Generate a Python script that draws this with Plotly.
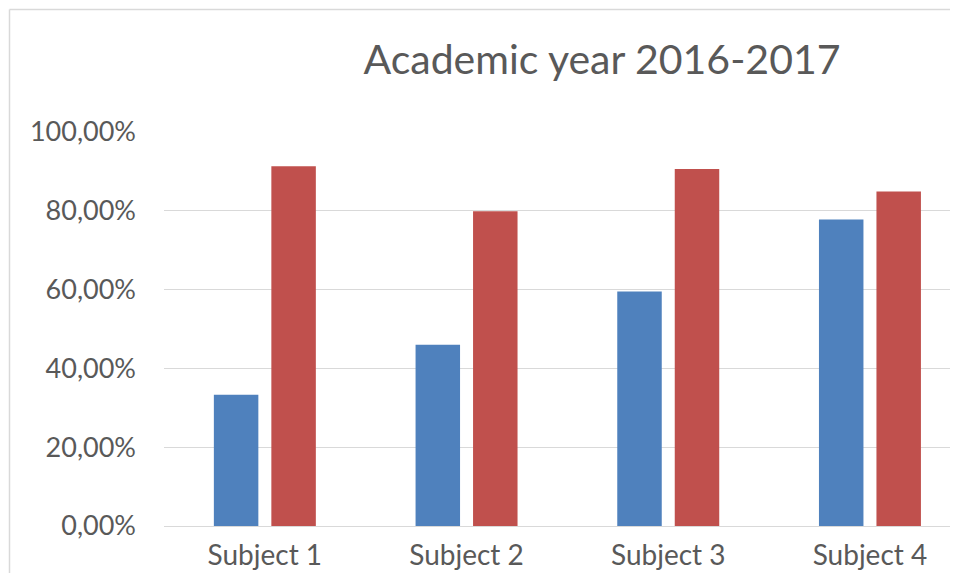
import plotly.graph_objects as go

categories = ["Subject 1", "Subject 2", "Subject 3", "Subject 4"]
series_a = [0.333, 0.460, 0.595, 0.778]
series_b = [0.913, 0.799, 0.906, 0.849]
tick_vals = [0, 0.2, 0.4, 0.6, 0.8, 1.0]
tick_text = ["0,00%", "20,00%", "40,00%", "60,00%", "80,00%", "100,00%"]
title_text = "Academic year 2016-2017"

FONT = "Lato"
GREY = "#595959"
GRID = "#d9d9d9"

# page body has an 8px margin, so figure coordinates are shifted by 8px
W, H = 950, 565
L, T, B = 156, 124, 47
PW = W - L
PH = H - T - B
CAT_PX = 201.7  # pixel width of one category slot in the reference

fig = go.Figure()
fig.add_trace(go.Bar(x=categories, y=series_a, marker=dict(color="#4F81BD", line=dict(width=0)), name="A"))
fig.add_trace(go.Bar(x=categories, y=series_b, marker=dict(color="#C0504D", line=dict(width=0)), name="B"))

fig.update_layout(
    width=W, height=H,
    margin=dict(l=L, r=0, t=T, b=B, pad=0),
    paper_bgcolor="white", plot_bgcolor="white",
    barmode="group", bargap=0.43, bargroupgap=0.226,
    showlegend=False,
    title=dict(text=title_text, x=594 / W, xanchor="center", y=1 - 52 / H, yanchor="middle",
               font=dict(family=FONT, size=41, color=GREY)),
    font=dict(family=FONT, color=GREY),
)
fig.update_xaxes(range=[-0.5, -0.5 + PW / CAT_PX], showgrid=False, showline=False, zeroline=False,
                 tickfont=dict(family=FONT, size=28, color=GREY), ticks="", ticklabelstandoff=10)
fig.update_yaxes(range=[0, 1], tickvals=tick_vals, ticktext=tick_text, showgrid=True,
                 gridcolor=GRID, gridwidth=1, zeroline=True, zerolinecolor=GRID, zerolinewidth=1,
                 showline=False, tickfont=dict(family=FONT, size=27, color=GREY),
                 ticks="", ticklabelstandoff=27)
# chart-area frame: only the top and left edges are visible in the reference
x_left = (1.5 - L) / PW
y_top = 1 + (T - 1.5) / PH
fig.add_shape(type="line", xref="paper", yref="paper", x0=x_left, x1=1.05, y0=y_top, y1=y_top,
              line=dict(color=GRID, width=1.5), layer="below")
fig.add_shape(type="line", xref="paper", yref="paper", x0=x_left, x1=x_left, y0=-0.3, y1=y_top,
              line=dict(color=GRID, width=1.5), layer="below")

fig.write_html("out.html")
